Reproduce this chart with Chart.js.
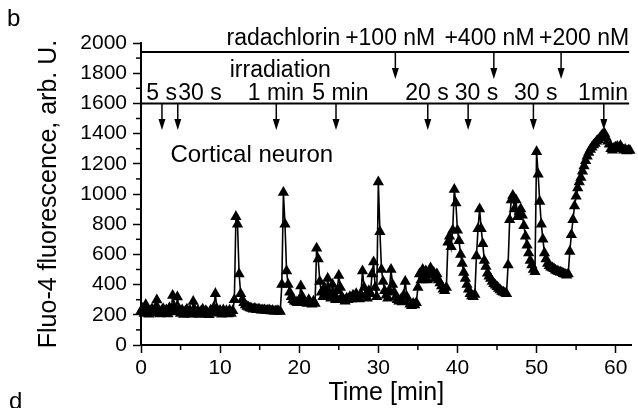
<!doctype html>
<html lang="en">
<head>
<meta charset="utf-8">
<title>Fluo-4 fluorescence - cortical neuron</title>
<style>
  html, body {margin: 0; padding: 0; background: #fff;}
  #wrap {width: 638px; height: 408px;}
</style>
</head>
<body>
<div id="wrap"><canvas id="myChart"></canvas></div>

<script src="https://cdn.jsdelivr.net/npm/chart.js@4.4.1/dist/chart.umd.min.js"></script>
<script>
// sampling of the trace: one point every 0.2 min, starting at 0 min
var startMin = 0;
var stepMin = 0.2;

// Fluo-4 fluorescence, arb. U. (one row = one minute)
var fluo = [
  225, 242, 208, 266, 228,   // 0
  204, 226, 238, 210, 244,
  298, 236, 206, 226, 240,
  210, 232, 206, 246, 222,
  328, 254, 218, 318, 240,
  208, 232, 202, 224, 236,   // 5
  206, 228, 204, 288, 232,
  208, 228, 202, 224, 236,
  206, 226, 214, 200, 230,
  216, 248, 340, 238, 210,
  228, 204, 232, 208, 226,   // 10
  206, 230, 208, 226, 300,
  850, 800, 470, 340, 300,
  280, 265, 255, 250, 245,
  242, 236, 242, 234, 236,
  235, 230, 232, 231, 229,   // 15
  228, 231, 225, 229, 224,
  224, 227, 224, 222, 400,
  1010, 800, 490, 400, 350,
  320, 300, 290, 285, 280,
  300, 390, 320, 290, 280,   // 20
  275, 300, 280, 270, 290,
  275, 640, 570, 420, 350,
  320, 380, 330, 440, 350,
  310, 400, 340, 300, 360,
  460, 380, 320, 300, 290,   // 25
  310, 300, 320, 305, 330,
  315, 340, 320, 305, 335,
  490, 380, 330, 310, 360,
  340, 470, 550, 380, 320,
  1080, 750, 500, 420, 360,  // 30
  330, 310, 360, 500, 400,
  350, 320, 300, 290, 300,
  285, 330, 420, 320, 290,
  270, 260, 275, 265, 280,
  380, 470, 430, 500, 450,   // 35
  490, 430, 470, 510, 460,
  480, 440, 470, 430, 410,
  390, 370, 360, 380, 680,
  720, 650, 760, 1030, 940,
  760, 690, 600, 540, 480,   // 40
  440, 400, 370, 340, 325,
  320, 335, 590, 770, 900,
  770, 670, 560, 520, 475,
  455, 440, 420, 405, 395,
  385, 375, 365, 355, 350,   // 45
  345, 340, 530, 830, 960,
  990, 900, 960, 850, 880,
  900, 860, 790, 720, 660,
  610, 560, 530, 500, 485,
  1280, 1130, 950, 800, 700, // 50
  610, 570, 540, 525, 515,
  510, 505, 495, 490, 485,
  482, 478, 472, 468, 462,
  470, 620, 730, 830, 920,
  985, 1040, 1080, 1110, 1150, // 55
  1185, 1220, 1250, 1275, 1295,
  1310, 1325, 1335, 1350, 1360,
  1370, 1385, 1395, 1400, 1375,
  1350, 1330, 1300, 1290, 1305,
  1310, 1315, 1305, 1320, 1300, // 60
  1290, 1295, 1285, 1290, 1288
];

// axes
var xTicks = [0, 10, 20, 30, 40, 50, 60];
var xMinor = [5, 15, 25, 35, 45, 55];
var yTicks = [0, 200, 400, 600, 800, 1000, 1200, 1400, 1600, 1800, 2000];
var yMinor = [100, 300, 500, 700, 900, 1100, 1300, 1500, 1700, 1900];

// radachlorin additions (top bar)
var drugLabels = ['radachlorin', '+100 nM', '+400 nM', '+200 nM'];
var drugLabelMin = [18.0, 31.5, 44.05, 56.0];
var drugArrowMin = [32.15, 44.6, 53.1];

// irradiation episodes (second bar)
var irrLabels = ['5 s', '30 s', '1 min', '5 min', '20 s', '30 s', '30 s', '1min'];
var irrLabelMin = [2.6, 7.45, 17.05, 25.2, 36.15, 42.4, 49.9, 58.4];
var irrArrowMin = [2.65, 4.65, 17.1, 24.65, 36.25, 41.35, 49.6, 58.5];

var FONT = '"Liberation Sans", Arial, sans-serif';

var points = fluo.map(function (v, i) {
  return {x: +(startMin + i * stepMin).toFixed(2), y: v};
});

function arrowDown(ctx, px, yTop, yTip) {
  ctx.lineWidth = 1.5;
  ctx.beginPath();
  ctx.moveTo(px, yTop);
  ctx.lineTo(px, yTip - 9);
  ctx.stroke();
  ctx.beginPath();
  ctx.moveTo(px - 3.5, yTip - 11);
  ctx.lineTo(px + 3.5, yTip - 11);
  ctx.lineTo(px, yTip);
  ctx.closePath();
  ctx.fill();
}

// bars, arrows, labels and the minor ticks
var annotations = {
  id: 'annotations',
  afterDraw: function (chart) {
    var ctx = chart.ctx, xs = chart.scales.x, ys = chart.scales.y;
    var area = chart.chartArea;
    ctx.save();
    ctx.strokeStyle = '#000';
    ctx.fillStyle = '#000';

    // minor ticks
    ctx.lineWidth = 1.5;
    xMinor.forEach(function (v) {
      var px = xs.getPixelForValue(v);
      ctx.beginPath(); ctx.moveTo(px, area.bottom); ctx.lineTo(px, area.bottom + 5); ctx.stroke();
    });
    yMinor.forEach(function (v) {
      var py = ys.getPixelForValue(v);
      ctx.beginPath(); ctx.moveTo(area.left - 5, py); ctx.lineTo(area.left, py); ctx.stroke();
    });

    // the two bars
    var xEnd = xs.getPixelForValue(61.7);
    [1940, 1600].forEach(function (lvl) {
      var py = ys.getPixelForValue(lvl);
      ctx.lineWidth = 2;
      ctx.beginPath(); ctx.moveTo(area.left, py); ctx.lineTo(xEnd, py); ctx.stroke();
    });

    drugArrowMin.forEach(function (t) {
      arrowDown(ctx, xs.getPixelForValue(t), ys.getPixelForValue(1940), ys.getPixelForValue(1762));
    });
    irrArrowMin.forEach(function (t) {
      arrowDown(ctx, xs.getPixelForValue(t), ys.getPixelForValue(1600), ys.getPixelForValue(1424));
    });

    ctx.textAlign = 'center';
    ctx.textBaseline = 'middle';
    ctx.font = '23px ' + FONT;
    drugLabels.forEach(function (s, i) {
      ctx.fillText(s, xs.getPixelForValue(drugLabelMin[i]), ys.getPixelForValue(2030));
    });
    irrLabels.forEach(function (s, i) {
      ctx.fillText(s, xs.getPixelForValue(irrLabelMin[i]), ys.getPixelForValue(1665));
    });
    ctx.fillText('irradiation', xs.getPixelForValue(17.6), ys.getPixelForValue(1815));

    ctx.font = '24px ' + FONT;
    ctx.fillText('Cortical neuron', xs.getPixelForValue(14.0), ys.getPixelForValue(1255));

    // panel letters
    ctx.textAlign = 'left';
    ctx.fillText('b', 7, 19);
    ctx.fillText('d', 9, 402);
    ctx.restore();
  }
};

var ctx = document.getElementById('myChart').getContext('2d');
var myChart = new Chart(ctx, {
  type: 'line',
  data: {
    datasets: [{
      data: points,
      borderColor: '#000',
      borderWidth: 1.6,
      backgroundColor: '#000',
      pointStyle: 'triangle',
      pointRadius: 6.5,
      pointBorderWidth: 0,
      pointBackgroundColor: '#000',
      tension: 0,
      clip: 8
    }]
  },
  options: {
    responsive: true,
    maintainAspectRatio: false,
    animation: false,
    layout: {padding: {top: 43, right: 1, left: 0, bottom: 0}},
    plugins: {legend: {display: false}, tooltip: {enabled: false}},
    scales: {
      x: {
        type: 'linear',
        min: 0,
        max: 62,
        afterBuildTicks: function (s) { s.ticks = xTicks.map(function (v) { return {value: v}; }); },
        afterFit: function (s) { s.height = 63; },
        ticks: {color: '#000', font: {size: 21, family: FONT}, padding: 3, maxRotation: 0, autoSkip: false,
          callback: function (v) { return String(v); }},
        grid: {drawOnChartArea: false, tickLength: 8, tickColor: '#000', tickWidth: 1.5},
        border: {display: true, color: '#000', width: 2},
        title: {display: true, text: 'Time [min]', color: '#000', font: {size: 25, family: FONT}, padding: {top: 0, bottom: 0}}
      },
      y: {
        min: 0,
        max: 2000,
        afterBuildTicks: function (s) { s.ticks = yTicks.map(function (v) { return {value: v}; }); },
        afterFit: function (s) { s.width = 141; },
        ticks: {color: '#000', font: {size: 21, family: FONT}, padding: 6,
          callback: function (v) { return String(v); }},
        grid: {drawOnChartArea: false, tickLength: 8, tickColor: '#000', tickWidth: 1.5},
        border: {display: true, color: '#000', width: 2},
        title: {display: true, text: 'Fluo-4 fluorescence, arb. U.', color: '#000', font: {size: 25, family: FONT}, padding: {top: 34, bottom: 0}}
      }
    }
  },
  plugins: [annotations]
});
</script>
</body>
</html>
